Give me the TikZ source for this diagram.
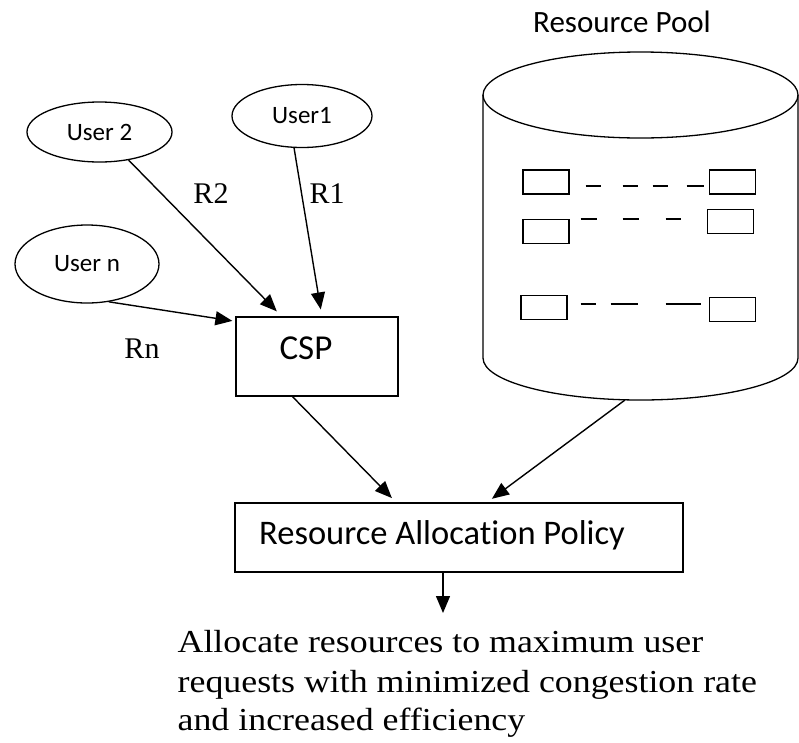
\documentclass[tikz,border=0pt]{standalone}
\usepackage{fontspec}
\setmainfont{Liberation Serif}
\newfontfamily\calfont[RawFeature=-liga]{Carlito}
\usetikzlibrary{shapes.geometric,arrows.meta,calc}
\begin{document}
\begin{tikzpicture}[x=1pt,y=-1pt,
  line width=1.3pt,
  arr/.style={-{Triangle[length=17pt,width=14pt]}, line width=1.4pt},
  user/.style={draw, ellipse, inner sep=0pt, font=\calfont\fontsize{25}{27}\selectfont},
  box/.style={draw, rectangle, inner sep=0pt},
  slot/.style={draw, rectangle, inner sep=0pt, minimum width=46pt, minimum height=24pt, line width=1.4pt},
  rlab/.style={font=\fontsize{30}{32}\selectfont},
  reslab/.style={anchor=base west, inner sep=0pt, font=\fontsize{32}{38}\selectfont},
  dsh/.style={line width=1.4pt}]
\useasboundingbox (0,0) rectangle (799,742);
% users
\node[user, minimum width=145pt, minimum height=60pt] (u2) at (99.5,132) {User 2};
\node[user, minimum width=140pt, minimum height=63pt] (u1) at (302,116) {User1};
\node[user, minimum width=144pt, minimum height=78pt] (un) at (87,264) {User n};
% CSP
\node[box, minimum width=162pt, minimum height=79pt] (csp) at (317,356.5) {};
\node[font=\calfont\fontsize{35}{37}\selectfont] (csplab) at (306,348) {CSP};
% labels
\node[rlab] (lr2) at (211,194) {R2};
\node[rlab] (lr1) at (327,194) {R1};
\node[rlab] (lrn) at (142,349) {Rn};
% arrows users -> CSP
\draw[arr, shorten >=7pt] (u2.-44) -- ($(csp.north west)!0.284!(csp.north east)$);
\draw[arr, shorten >=7pt] (u1.-104) -- ($(csp.north west)!0.53!(csp.north east)$);
\draw[arr, shorten >=3pt] (un.-60) -- ($(csp.north west)+(0,5)$);
% cylinder
\node[font=\calfont\fontsize{31}{33}\selectfont] (rp) at (622,22) {Resource Pool};
\draw (640.5,95) ellipse [x radius=157.5, y radius=43];
\draw (483,95) -- (483,358) arc[start angle=180, end angle=0, x radius=157.5, y radius=42] -- (798,95);
\coordinate (cylbot) at (625,400);
% slots
\node[slot] (s1l) at (546,182) {};
\node[slot] (s1r) at (732.5,182) {};
\node[slot] (s2l) at (546,231.5) {};
\node[slot] (s2r) at (730.5,221.5) {};
\node[slot] (s3l) at (544,307.5) {};
\node[slot] (s3r) at (732.5,309.5) {};
\draw[dsh, dash pattern=on 15pt off 22pt on 15pt off 15pt on 15pt off 19pt on 17pt] ($(s1l.east)+(16,4)$) -- ($(s1r.west)+(0,4)$);
\draw[dsh, dash pattern=on 16pt off 26pt on 16pt off 27pt on 16pt] ($(s2l.east)+(11,-12.5)$) -- ($(s2r.west)+(-26,-2.5)$);
\draw[dsh, dash pattern=on 15pt off 15pt on 27pt off 28pt on 35pt] ($(s3l.east)+(13,-3.5)$) -- ($(s3r.west)+(0,-5.5)$);
% RAP
\node[box, minimum width=448pt, minimum height=69pt] (rap) at (459,537.5) {};
\node[font=\calfont\fontsize{34.5}{36}\selectfont] (raplab) at (442,535) {Resource Allocation Policy};
\draw[arr, shorten >=6pt] ($(csp.south west)!0.35!(csp.south east)$) -- ($(rap.north west)!0.36!(rap.north east)$);
\draw[arr, shorten >=6pt] (cylbot) -- ($(rap.north west)!0.5625!(rap.north east)$);
% result
\node[reslab] (res1) at (177,652) {\scalebox{1.12}[1]{Allocate resources to maximum user}};
\node[reslab] (res2) at (177,692) {\scalebox{1.12}[1]{requests with minimized congestion rate}};
\node[reslab] (res3) at (177,730) {\scalebox{1.12}[1]{and increased efficiency}};
\coordinate (resarr) at (443,613);
\draw[arr] (rap.south -| resarr) -- (resarr);
\end{tikzpicture}
\end{document}
